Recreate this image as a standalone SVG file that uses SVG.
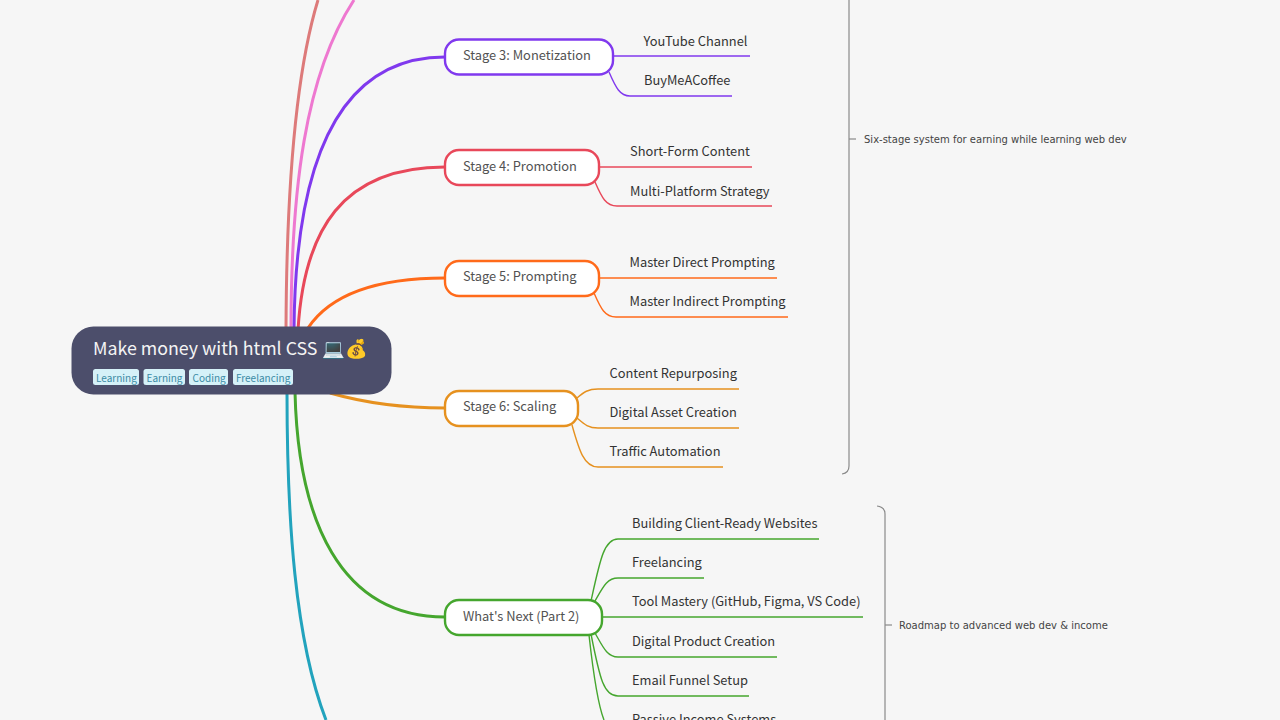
<svg xmlns="http://www.w3.org/2000/svg" width="1280" height="720" viewBox="0 0 1280 720">
<style>
text{font-family:"Noto Sans CJK SC","Noto Sans",sans-serif}
.n{font-size:12.850px;fill:#525252}
.l{font-size:12.850px;fill:#333}
.note{font-family:"DejaVu Sans",sans-serif;font-size:10px;fill:#444}
.tag{font-size:10px;fill:#3b8ba5}
.tb{fill:#d5f1f8}
.box{fill:#fff;stroke-width:2.4}
.c{fill:none;stroke-width:3}
.s{fill:none;stroke-width:1.4}
.br{fill:none;stroke:#8a8a8a;stroke-width:1.2}
.p{stroke:#8039ee}.r{stroke:#e8485a}.o{stroke:#ff6a1a}.y{stroke:#e6911f}.g{stroke:#45a62e}
</style>
<rect width="1280" height="720" fill="#f6f6f6"/>
<g id="connectors">
<path class="c" stroke="#dd7a7a" d="M286 330C286.500 190 295 75 318 0"/>
<path class="c" stroke="#ee78d0" d="M291 330C291 190 305 75 354 0"/>
<path class="c p" d="M294 330C295 190 325 57 445 57"/>
<path class="c r" d="M298 330C304 230 342 167 445 167"/>
<path class="c o" d="M308 328C330 295 375 278 445 278"/>
<path class="c y" d="M330 393C365 403 400 408 445 408"/>
<path class="c g" d="M295 392C298 520 340 617 445 617"/>
<path class="c" stroke="#22a3bd" d="M287 392C287 520 295 640 326 720"/>
<path class="s p" d="M613 56H750"/>
<path class="s p" d="M609 72C616 88 620 96 630 96H732"/>
<path class="s r" d="M599 167H752"/>
<path class="s r" d="M595 182C602 198 606 206 617 206H772"/>
<path class="s o" d="M599 278H777"/>
<path class="s o" d="M594 293C601 309 605 317 616 317H788"/>
<path class="s y" d="M577 398C584 392 588 389 598 389H739"/>
<path class="s y" d="M577 418C584 424 588 428 598 428H739"/>
<path class="s y" d="M572 425C579 450 584 467 598 467H723"/>
<path class="s g" d="M591 601C600 560 604 539 618 539H819"/>
<path class="s g" d="M595 601C603 587 607 578 618 578H704"/>
<path class="s g" d="M602 617H863"/>
<path class="s g" d="M595 633C603 647 607 657 618 657H777"/>
<path class="s g" d="M591 634C600 680 604 696 618 696H749"/>
<path class="s g" d="M589 635C594 680 598 705 604 720"/>
</g>
<g id="brace-stages">
<path class="br" d="M849 0V466Q849 473 842 474"/>
<path class="br" d="M849 139H856"/>
<text class="note" x="864" y="143">Six-stage system for earning while learning web dev</text>
</g>
<g id="brace-next">
<path class="br" d="M877 506Q885 507 885 514V720"/>
<path class="br" d="M885 625H892"/>
<text class="note" x="899" y="629">Roadmap to advanced web dev &amp; income</text>
</g>
<g id="root">
<rect x="71.500" y="326.500" width="320" height="68" rx="22" fill="#4c4e6b"/>
<text x="93" y="354.500" font-size="17.800" fill="#f4f4f4">Make money with html CSS <tspan x="322" font-size="18.200">💻💰</tspan></text>
<rect class="tb" x="93" y="369" width="46" height="16" rx="2.500"/><text class="tag" x="96" y="382">Learning</text>
<rect class="tb" x="143.500" y="369" width="41.500" height="16" rx="2.500"/><text class="tag" x="146.500" y="382">Earning</text>
<rect class="tb" x="189" y="369" width="39" height="16" rx="2.500"/><text class="tag" x="192.500" y="382">Coding</text>
<rect class="tb" x="233" y="369" width="60" height="16" rx="2.500"/><text class="tag" x="236" y="382">Freelancing</text>
</g>
<g id="stage3"><rect class="box p" x="445" y="39.500" width="168" height="35" rx="14"/><text class="n" x="463" y="60">Stage 3: Monetization</text></g>
<g id="stage4"><rect class="box r" x="445" y="150" width="154" height="35" rx="14"/><text class="n" x="463" y="171">Stage 4: Promotion</text></g>
<g id="stage5"><rect class="box o" x="445" y="261" width="154" height="35" rx="14"/><text class="n" x="463" y="281">Stage 5: Prompting</text></g>
<g id="stage6"><rect class="box y" x="445" y="391" width="133" height="35" rx="14"/><text class="n" x="463" y="411">Stage 6: Scaling</text></g>
<g id="next"><rect class="box g" x="445" y="600" width="157" height="35" rx="14"/><text class="n" x="463" y="621">What's Next (Part 2)</text></g>
<g id="leaf-youtube"><text class="l" x="643.500" y="45.600">YouTube Channel</text></g>
<g id="leaf-bmac"><text class="l" x="644" y="85">BuyMeACoffee</text></g>
<g id="leaf-short"><text class="l" x="630" y="156">Short-Form Content</text></g>
<g id="leaf-multi"><text class="l" x="630" y="195.800">Multi-Platform Strategy</text></g>
<g id="leaf-direct"><text class="l" x="629.500" y="267">Master Direct Prompting</text></g>
<g id="leaf-indirect"><text class="l" x="629.500" y="306">Master Indirect Prompting</text></g>
<g id="leaf-repurpose"><text class="l" x="609.500" y="378">Content Repurposing</text></g>
<g id="leaf-asset"><text class="l" x="609.500" y="417">Digital Asset Creation</text></g>
<g id="leaf-traffic"><text class="l" x="609.500" y="456">Traffic Automation</text></g>
<g id="leaf-client"><text class="l" x="632" y="528">Building Client-Ready Websites</text></g>
<g id="leaf-freelance"><text class="l" x="632" y="567">Freelancing</text></g>
<g id="leaf-tool"><text class="l" x="632" y="606">Tool Mastery (GitHub, Figma, VS Code)</text></g>
<g id="leaf-product"><text class="l" x="632" y="646">Digital Product Creation</text></g>
<g id="leaf-email"><text class="l" x="632" y="685">Email Funnel Setup</text></g>
<g id="leaf-passive"><text class="l" x="632" y="724">Passive Income Systems</text></g>
</svg>
